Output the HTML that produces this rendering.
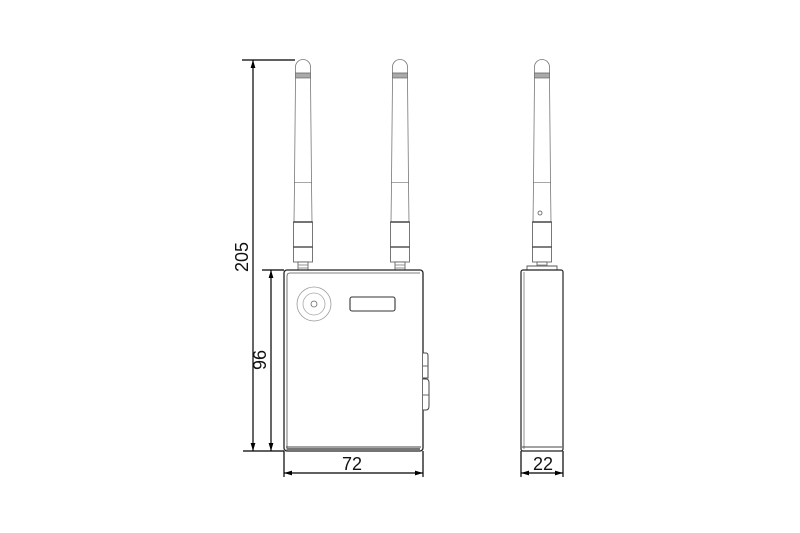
<!DOCTYPE html>
<html><head><style>html,body{margin:0;padding:0;background:#fff;}svg{display:block}</style></head>
<body>
<svg width="800" height="533" viewBox="0 0 800 533" xmlns="http://www.w3.org/2000/svg" font-family="Liberation Sans, sans-serif">
<defs>
<marker id="ar" viewBox="0 0 10 10" refX="10" refY="5" markerWidth="8" markerHeight="8" orient="auto-start-reverse" markerUnits="userSpaceOnUse"><path d="M0,2 L10,5 L0,8 z" fill="#000"/></marker>
<g id="ant" fill="#fff" stroke="#777" stroke-width="0.8">
  <path d="M-7.5,73 L-7.5,67 A7.5,7.5 0 0 1 7.5,67 L7.5,73"/>
  <rect x="-7.5" y="73" width="15" height="5" fill="#aaa" stroke="#666"/>
  <path d="M-7.5,78 L-8.5,183 L8.5,183 L7.5,78 Z"/>
  <line x1="-8.5" y1="183" x2="8.5" y2="183" stroke="#333"/>
  <path d="M-8.5,183 L-9,222 L9,222 L8.5,183"/>
  <rect x="-9.5" y="222" width="19" height="25" stroke="#555"/>
  <line x1="-9.5" y1="222" x2="9.5" y2="222" stroke="#222" stroke-width="1.2"/>
  <rect x="-9.5" y="247" width="19" height="15" stroke="#555"/>
  <line x1="-9.5" y1="247" x2="9.5" y2="247" stroke="#333" stroke-width="1.2"/>
  <rect x="-5" y="262" width="10" height="8" stroke="#555"/>
  <line x1="-5" y1="265" x2="5" y2="265"/><line x1="-5" y1="268" x2="5" y2="268"/>
</g>
</defs>
<use href="#ant" x="303" y="0"/>
<use href="#ant" x="400" y="0"/>
<use href="#ant" x="542" y="0"/>
<circle cx="540" cy="213" r="2" fill="none" stroke="#555" stroke-width="0.8"/>

<!-- front box -->
<rect x="284" y="270" width="139" height="181" rx="3" fill="#fff" stroke="#222" stroke-width="1.3"/>
<path d="M287,451 L287,276 Q287,273 290,273 L420,273" fill="none" stroke="#555" stroke-width="0.8"/>
<line x1="286" y1="447" x2="421" y2="447" stroke="#444" stroke-width="1"/>
<line x1="287" y1="449" x2="420" y2="449" stroke="#777" stroke-width="2"/>
<circle cx="314" cy="304" r="17" fill="none" stroke="#999" stroke-width="0.8"/>
<circle cx="314" cy="304" r="11" fill="none" stroke="#aaa" stroke-width="0.8"/>
<circle cx="314" cy="304" r="3" fill="none" stroke="#666" stroke-width="0.8"/>
<rect x="350" y="297" width="45" height="14" rx="2" fill="#fff" stroke="#333" stroke-width="1.1"/>
<path d="M423,353 L426,353 Q428,353 428,356 L428,378 L423,378" fill="#fff" stroke="#444" stroke-width="1"/>
<line x1="423" y1="366" x2="428" y2="366" stroke="#666"/>
<path d="M423,379 L426,379 Q429,379 429,383 L429,406 Q429,410 426,410 L423,410" fill="#fff" stroke="#444" stroke-width="1"/>
<line x1="423" y1="395" x2="429" y2="395" stroke="#666"/>

<!-- side box -->
<path d="M527,270 L527,266 L557,266 L557,270" fill="#fff" stroke="#555" stroke-width="0.9"/>
<rect x="521" y="270" width="42" height="181" rx="2" fill="#fff" stroke="#222" stroke-width="1.2"/>
<line x1="524" y1="272" x2="524" y2="449" stroke="#777" stroke-width="0.8"/>
<line x1="522" y1="447" x2="562" y2="447" stroke="#444" stroke-width="1"/>

<!-- dimensions -->
<g stroke="#000" stroke-width="1.2" fill="none">
<line x1="242" y1="60" x2="295" y2="60"/>
<line x1="243" y1="451" x2="284" y2="451"/>
<line x1="253" y1="60" x2="253" y2="451" marker-start="url(#ar)" marker-end="url(#ar)"/>
<line x1="262" y1="270" x2="284" y2="270"/>
<line x1="271" y1="270" x2="271" y2="451" marker-start="url(#ar)" marker-end="url(#ar)"/>
<line x1="284" y1="451" x2="284" y2="477"/>
<line x1="423" y1="451" x2="423" y2="477"/>
<line x1="284" y1="473" x2="423" y2="473" marker-start="url(#ar)" marker-end="url(#ar)"/>
<line x1="521" y1="451" x2="521" y2="477"/>
<line x1="563" y1="451" x2="563" y2="477"/>
<line x1="521" y1="473" x2="563" y2="473" marker-start="url(#ar)" marker-end="url(#ar)"/>
</g>
<g font-size="18" fill="#111" text-anchor="middle">
<text x="352" y="470">72</text>
<text x="543" y="470">22</text>
<text transform="translate(248,257) rotate(-90)">205</text>
<text transform="translate(266,360) rotate(-90)">96</text>
</g>
</svg>
</body></html>
